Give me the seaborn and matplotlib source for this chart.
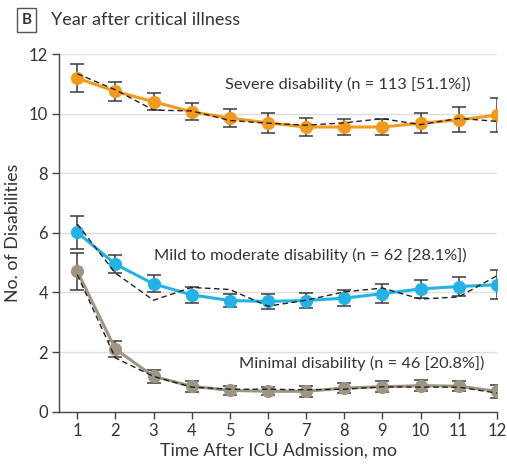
import matplotlib
matplotlib.use("Agg")
import matplotlib.pyplot as plt
import seaborn as sns
import pandas as pd
import numpy as np

sns.set_theme(style="white")
plt.rcParams["font.family"] = ["Lato", "DejaVu Sans"]

months = [1, 2, 3, 4, 5, 6, 7, 8, 9, 10, 11, 12]

# Model-estimated mean number of disabilities per trajectory group
severe_est = [11.20, 10.76, 10.41, 10.07, 9.86, 9.70, 9.56, 9.56, 9.56, 9.69, 9.80, 9.96]
mild_est = [6.02, 4.95, 4.29, 3.92, 3.73, 3.70, 3.73, 3.81, 3.96, 4.12, 4.20, 4.26]
minimal_est = [4.71, 2.10, 1.18, 0.85, 0.71, 0.68, 0.68, 0.79, 0.83, 0.87, 0.85, 0.68]

# 95% CI half-widths
severe_ci = [0.48, 0.32, 0.29, 0.29, 0.30, 0.33, 0.30, 0.28, 0.28, 0.33, 0.42, 0.58]
mild_ci = [0.56, 0.31, 0.29, 0.28, 0.23, 0.24, 0.24, 0.26, 0.32, 0.31, 0.33, 0.49]
minimal_ci = [0.62, 0.27, 0.23, 0.18, 0.14, 0.14, 0.18, 0.18, 0.18, 0.18, 0.17, 0.22]

# Observed means
severe_obs = [11.35, 10.81, 10.13, 10.10, 9.78, 9.69, 9.62, 9.70, 9.84, 9.64, 9.85, 9.75]
mild_obs = [6.30, 4.65, 3.74, 4.17, 4.10, 3.54, 3.74, 4.02, 4.15, 3.78, 3.85, 4.56]
minimal_obs = [4.60, 1.80, 1.18, 0.82, 0.75, 0.75, 0.73, 0.75, 0.83, 0.82, 0.82, 0.62]

groups = ["Severe", "Mild", "Minimal"]
labels = [
    "Severe disability (n = 113 [51.1%])",
    "Mild to moderate disability (n = 62 [28.1%])",
    "Minimal disability (n = 46 [20.8%])",
]
colors = {"Severe": "#F39A1E", "Mild": "#22B2E6", "Minimal": "#9E9582"}

est = {"Severe": severe_est, "Mild": mild_est, "Minimal": minimal_est}
ci = {"Severe": severe_ci, "Mild": mild_ci, "Minimal": minimal_ci}
obs = {"Severe": severe_obs, "Mild": mild_obs, "Minimal": minimal_obs}

rows = []
for g in groups:
    for m, e, o in zip(months, est[g], obs[g]):
        rows.append({"month": m, "group": g, "estimate": e, "observed": o})
df = pd.DataFrame(rows)

fig = plt.figure(figsize=(5.07, 4.65), dpi=100)
ax = fig.add_axes([0.117, 0.115, 0.863, 0.768])

ink = "#333333"

for g in groups:
    ax.errorbar(months, est[g], yerr=ci[g], fmt="none", ecolor="#3a3a3a",
                elinewidth=1.1, capsize=5, capthick=1.1, zorder=2)

sns.lineplot(data=df, x="month", y="estimate", hue="group", palette=colors,
             hue_order=groups, marker="o", markersize=9.5, markeredgewidth=0,
             linewidth=2.2, legend=False, ax=ax, zorder=3)

sns.lineplot(data=df, x="month", y="observed", units="group", estimator=None,
             color="#222222", linestyle=(0, (4, 2.5)), linewidth=1.0,
             legend=False, ax=ax, zorder=4)

# Group labels
ax.text(8.1, 10.98, labels[0], ha="center", va="center", fontsize=11.8, color=ink)
ax.text(7.1, 5.26, labels[1], ha="center", va="center", fontsize=11.8, color=ink)
ax.text(8.46, 1.6, labels[2], ha="center", va="center", fontsize=11.8, color=ink)

ax.set_xlim(0.53, 12)
ax.set_ylim(0, 12)
ax.set_xticks(months)
ax.set_yticks([0, 2, 4, 6, 8, 10, 12])
for y in [2, 4, 6, 8, 10, 12]:
    ax.axhline(y, color="#dddddd", linewidth=1.0, zorder=0)

for s in ["top", "right"]:
    ax.spines[s].set_visible(False)
for s in ["left", "bottom"]:
    ax.spines[s].set_color("#444444")
    ax.spines[s].set_linewidth(1.0)

ax.tick_params(axis="both", direction="out", length=5, width=1.0,
               color="#444444", labelsize=12, labelcolor=ink, pad=3)
ax.tick_params(axis="both", which="both", bottom=True, left=True)

ax.set_xlabel("Time After ICU Admission, mo", fontsize=12.8, color=ink, labelpad=3)
ax.set_ylabel("No. of Disabilities", fontsize=12.8, color=ink, labelpad=6)

fig.text(0.052, 0.957, "B", fontsize=11, fontweight="bold", color=ink,
         ha="center", va="center",
         bbox=dict(boxstyle="square,pad=0.3", facecolor="white",
                   edgecolor="#555555", linewidth=1.0))
fig.text(0.10, 0.957, "Year after critical illness", fontsize=13,
         color=ink, ha="left", va="center")

fig.savefig("out.png", dpi=100, facecolor="white")
